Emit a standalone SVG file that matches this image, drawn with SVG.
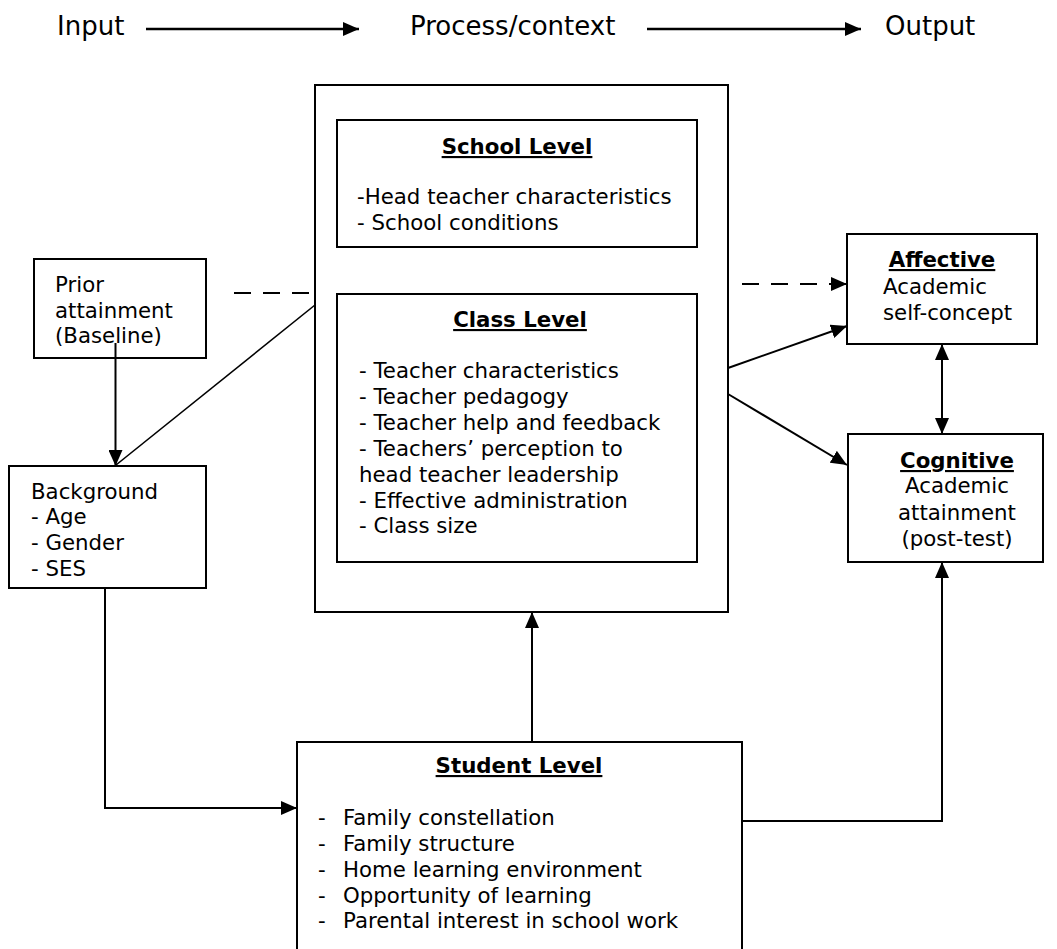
<svg xmlns="http://www.w3.org/2000/svg" width="1057" height="949" viewBox="0 0 1057 949">
  <style>
    text { font-family: "DejaVu Sans", Verdana, sans-serif; font-size: 21.3px; fill: #000; }
    .top { font-size: 26px; }
    .head { font-weight: bold; text-decoration: underline; text-anchor: middle; }
    .mid { text-anchor: middle; }
    .box { fill: #fff; stroke: #000; stroke-width: 2; }
    .ln { fill: none; stroke: #000; stroke-width: 2; }
    .thin { fill: none; stroke: #000; stroke-width: 1.6; }
    .dash { fill: none; stroke: #000; stroke-width: 2; stroke-dasharray: 17 12; }
    .toparrow { fill: none; stroke: #000; stroke-width: 2.7; }
  </style>
  <defs>
    <marker id="ah" viewBox="0 0 16 14" refX="16" refY="7" markerWidth="16" markerHeight="14" markerUnits="userSpaceOnUse" orient="auto-start-reverse">
      <path d="M0,0 L16,7 L0,14 Z" fill="#000"/>
    </marker>
  </defs>

  <rect width="1057" height="949" fill="#fff"/>

  <!-- heading row -->
  <g id="heading">
    <text class="top" x="57" y="35">Input</text>
    <text class="top" x="410" y="35">Process/context</text>
    <text class="top" x="885" y="35">Output</text>
    <line class="toparrow" x1="146" y1="29" x2="359" y2="29" marker-end="url(#ah)"/>
    <line class="toparrow" x1="647" y1="29" x2="861" y2="29" marker-end="url(#ah)"/>
  </g>

  <!-- process / context container -->
  <g id="process">
    <rect class="box" x="315" y="85" width="413" height="527"/>
  </g>

  <g id="school-level">
    <rect class="box" x="337" y="120" width="360" height="127"/>
    <text class="head" x="517" y="154">School Level</text>
    <text x="357" y="204">-Head teacher characteristics</text>
    <text x="357" y="230">- School conditions</text>
  </g>

  <g id="class-level">
    <rect class="box" x="337" y="294" width="360" height="268"/>
    <text class="head" x="520" y="327">Class Level</text>
    <text x="359" y="378">- Teacher characteristics</text>
    <text x="359" y="404">- Teacher pedagogy</text>
    <text x="359" y="430">- Teacher help and feedback</text>
    <text x="359" y="456">- Teachers’ perception to</text>
    <text x="359" y="482">head teacher leadership</text>
    <text x="359" y="508">- Effective administration</text>
    <text x="359" y="533">- Class size</text>
  </g>

  <g id="prior-attainment">
    <rect class="box" x="34" y="259" width="172" height="99"/>
    <text x="55" y="292">Prior</text>
    <text x="55" y="318">attainment</text>
    <text x="55" y="343">(Baseline)</text>
  </g>

  <g id="background">
    <rect class="box" x="9" y="466" width="197" height="122"/>
    <text x="31" y="499">Background</text>
    <text x="31" y="524">- Age</text>
    <text x="31" y="550">- Gender</text>
    <text x="31" y="576">- SES</text>
  </g>

  <g id="affective">
    <rect class="box" x="847" y="234" width="190" height="110"/>
    <text class="head" x="942" y="267">Affective</text>
    <text x="883" y="294">Academic</text>
    <text x="883" y="320">self-concept</text>
  </g>

  <g id="cognitive">
    <rect class="box" x="848" y="434" width="195" height="128"/>
    <text class="head" x="957" y="468">Cognitive</text>
    <text class="mid" x="957" y="493">Academic</text>
    <text class="mid" x="957" y="520">attainment</text>
    <text class="mid" x="957" y="546">(post-test)</text>
  </g>

  <g id="student-level">
    <rect class="box" x="297" y="742" width="445" height="212"/>
    <text class="head" x="519" y="773">Student Level</text>
    <text x="318" y="825">-</text><text x="343" y="825">Family constellation</text>
    <text x="318" y="851">-</text><text x="343" y="851">Family structure</text>
    <text x="318" y="877">-</text><text x="343" y="877">Home learning environment</text>
    <text x="318" y="903">-</text><text x="343" y="903">Opportunity of learning</text>
    <text x="318" y="928">-</text><text x="343" y="928">Parental interest in school work</text>
  </g>

  <!-- connectors -->
  <g id="connectors">
    <line class="dash" x1="234" y1="293" x2="315" y2="293"/>
    <line class="thin" x1="315" y1="305" x2="116" y2="465"/>
    <line class="ln" x1="115.5" y1="343" x2="115.5" y2="466" marker-end="url(#ah)"/>
    <path class="ln" d="M105,588 V808 H297" marker-end="url(#ah)"/>
    <line class="ln" x1="532" y1="742" x2="532" y2="612" marker-end="url(#ah)"/>
    <path class="ln" d="M742,821 H942 V562" marker-end="url(#ah)"/>
    <line class="dash" x1="742" y1="284" x2="847" y2="284" marker-end="url(#ah)"/>
    <line class="ln" x1="728" y1="368" x2="847" y2="326" marker-end="url(#ah)"/>
    <line class="ln" x1="728" y1="394" x2="847" y2="465" marker-end="url(#ah)"/>
    <line class="ln" x1="942" y1="344" x2="942" y2="434" marker-start="url(#ah)" marker-end="url(#ah)"/>
  </g>
</svg>
